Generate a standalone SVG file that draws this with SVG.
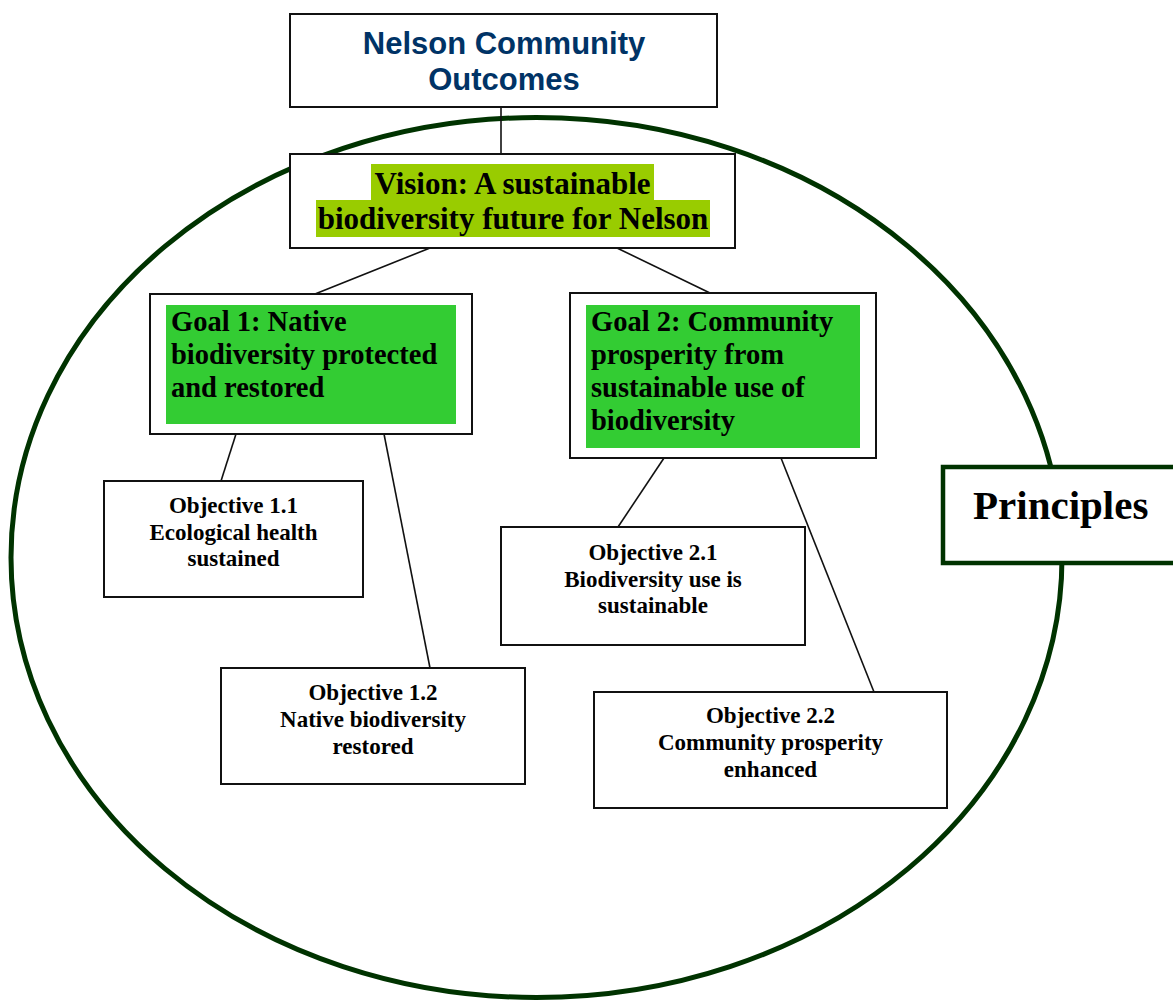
<svg xmlns="http://www.w3.org/2000/svg" width="1173" height="1000" viewBox="0 0 1173 1000">
  <style>
    .box { fill: #ffffff; stroke: #111111; stroke-width: 2; }
    .ring { fill: none; stroke: #003300; stroke-width: 5; }
    .frame { fill: #ffffff; stroke: #003300; stroke-width: 4.5; }
    .link { stroke: #111111; stroke-width: 1.6; fill: none; }
    .sans { font-family: "Liberation Sans", Arial, sans-serif; font-weight: bold; }
    .serif { font-family: "Liberation Serif", "Times New Roman", serif; font-weight: bold; fill: #000000; }
    .title { font-size: 31px; fill: #003366; text-anchor: middle; }
    .vision { font-size: 31px; text-anchor: middle; }
    .goal { font-size: 28.5px; }
    .obj { font-size: 23px; text-anchor: middle; }
    .principles { font-size: 41px; }
    .hl-vision { fill: #99cc00; }
    .hl-goal { fill: #33cc33; }
  </style>

  <rect width="1173" height="1000" fill="#ffffff"/>

  <!-- Principles boundary -->
  <ellipse class="ring" cx="536.5" cy="557.5" rx="525.5" ry="440"/>

  <!-- connectors -->
  <g id="connectors">
    <line class="link" x1="501" y1="107" x2="501" y2="154"/>
    <line class="link" x1="430" y1="248" x2="315" y2="294"/>
    <line class="link" x1="617" y1="248" x2="710" y2="293"/>
    <line class="link" x1="236" y1="434" x2="221" y2="481"/>
    <line class="link" x1="384" y1="434" x2="430" y2="668"/>
    <line class="link" x1="664" y1="458" x2="618" y2="527"/>
    <line class="link" x1="781" y1="458" x2="874" y2="692"/>
  </g>

  <g id="community-outcomes">
    <rect class="box" x="290" y="14" width="427" height="93"/>
    <text class="sans title" x="504" y="54">Nelson Community</text>
    <text class="sans title" x="504" y="90">Outcomes</text>
  </g>

  <g id="vision">
    <rect class="box" x="290" y="154" width="445" height="94"/>
    <rect class="hl-vision" x="371" y="164" width="283" height="36"/>
    <rect class="hl-vision" x="316" y="200" width="394" height="37"/>
    <text class="serif vision" x="512.5" y="194">Vision: A sustainable</text>
    <text class="serif vision" x="513" y="229">biodiversity future for Nelson</text>
  </g>

  <g id="goal-1">
    <rect class="box" x="150" y="294" width="322" height="140"/>
    <rect class="hl-goal" x="166" y="305" width="290" height="119"/>
    <text class="serif goal" x="171" y="331">Goal 1: Native</text>
    <text class="serif goal" x="171" y="364">biodiversity protected</text>
    <text class="serif goal" x="171" y="397">and restored</text>
  </g>

  <g id="goal-2">
    <rect class="box" x="570" y="293" width="306" height="165"/>
    <rect class="hl-goal" x="586" y="305" width="274" height="143"/>
    <text class="serif goal" x="591" y="331">Goal 2: Community</text>
    <text class="serif goal" x="591" y="364">prosperity from</text>
    <text class="serif goal" x="591" y="397">sustainable use of</text>
    <text class="serif goal" x="591" y="430">biodiversity</text>
  </g>

  <g id="objective-1-1">
    <rect class="box" x="104" y="481" width="259" height="116"/>
    <text class="serif obj" x="233.5" y="513">Objective 1.1</text>
    <text class="serif obj" x="233.5" y="539.5">Ecological health</text>
    <text class="serif obj" x="233.5" y="566">sustained</text>
  </g>

  <g id="objective-1-2">
    <rect class="box" x="221" y="668" width="304" height="116"/>
    <text class="serif obj" x="373" y="700">Objective 1.2</text>
    <text class="serif obj" x="373" y="727">Native biodiversity</text>
    <text class="serif obj" x="373" y="753.5">restored</text>
  </g>

  <g id="objective-2-1">
    <rect class="box" x="501" y="527" width="304" height="118"/>
    <text class="serif obj" x="653" y="560">Objective 2.1</text>
    <text class="serif obj" x="653" y="586.5">Biodiversity use is</text>
    <text class="serif obj" x="653" y="613">sustainable</text>
  </g>

  <g id="objective-2-2">
    <rect class="box" x="594" y="692" width="353" height="116"/>
    <text class="serif obj" x="770.5" y="723">Objective 2.2</text>
    <text class="serif obj" x="770.5" y="749.5">Community prosperity</text>
    <text class="serif obj" x="770.5" y="776.5">enhanced</text>
  </g>

  <g id="principles">
    <rect class="frame" x="943" y="467" width="240" height="96"/>
    <text class="serif principles" x="973" y="519">Principles</text>
  </g>
</svg>
